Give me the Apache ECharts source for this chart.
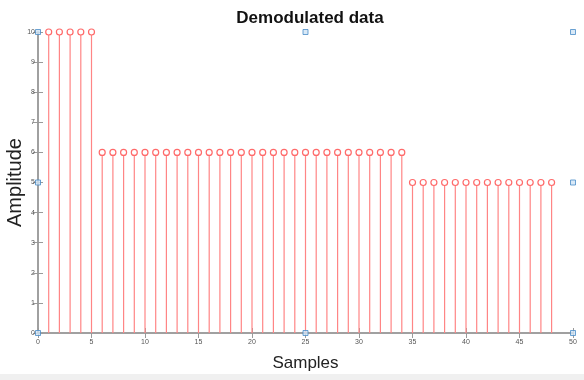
<!DOCTYPE html>
<html><head><meta charset="utf-8">
<script src="https://cdn.jsdelivr.net/npm/echarts@6/dist/echarts.min.js"></script>
<style>html,body{margin:0;padding:0;background:#fff}#c{width:584px;height:380px}</style>
</head><body><div id="c"></div>
<script>
const samples = [1,2,3,4,5,6,7,8,9,10,11,12,13,14,15,16,17,18,19,20,21,22,23,24,25,26,27,28,29,30,31,32,33,34,35,36,37,38,39,40,41,42,43,44,45,46,47,48];
const amplitude = [10,10,10,10,10,6,6,6,6,6,6,6,6,6,6,6,6,6,6,6,6,6,6,6,6,6,6,6,6,6,6,6,6,6,5,5,5,5,5,5,5,5,5,5,5,5,5,5];
const handles = [[0,0],[0,5],[0,10],[25,0],[25,10],[50,0],[50,5],[50,10]];
const xTicks = [0,5,10,15,20,25,30,35,40,45,50];
const yTicks = [0,1,2,3,4,5,6,7,8,9,10];

const stemData = samples.map((s,i)=>[s, amplitude[i]]);
const chart = echarts.init(document.getElementById('c'), null, {renderer:'canvas'});
const axisCol = '#9a9a9a';
const labelStyle = {fontSize:7, color:'#555', fontFamily:'Liberation Sans, Arial, sans-serif'};
chart.setOption({
  animation:false,
  backgroundColor:'#fff',
  title:{text:'Demodulated data', left:305, top:5, textAlign:'center',
    textStyle:{fontSize:17, fontWeight:'bold', color:'#111', fontFamily:'Liberation Sans Narrow, Liberation Sans, Arial, sans-serif'}},
  graphic:[{type:'rect', shape:{x:0,y:374,width:584,height:6}, style:{fill:'#f0f0f0'}, silent:true}],
  grid:{left:38, right:11, top:32, bottom:47, containLabel:false, outerBoundsMode:'none'},
  xAxis:[{type:'value', min:xTicks[0], max:xTicks[xTicks.length-1], interval:5, position:'bottom',
      name:'Samples', nameLocation:'middle', nameGap:22, nameMoveOverlap:false,
      nameTextStyle:{fontSize:17, color:'#222', fontFamily:'Liberation Sans, Arial, sans-serif'},
      axisLine:{lineStyle:{color:axisCol, width:1.5}}, axisTick:{inside:true, length:5, lineStyle:{color:axisCol}},
      axisLabel:Object.assign({margin:6}, labelStyle), splitLine:{show:false}},
    {type:'value', min:0, max:50, interval:5, position:'top',
      axisLine:{lineStyle:{color:axisCol, width:1.5}}, axisTick:{inside:true, length:5, lineStyle:{color:axisCol}},
      axisLabel:{show:false}, splitLine:{show:false}}],
  yAxis:[{type:'value', min:yTicks[0], max:yTicks[yTicks.length-1], interval:1, position:'left',
      name:'Amplitude', nameLocation:'middle', nameGap:13, nameRotate:90, nameMoveOverlap:false,
      nameTextStyle:{fontSize:20, color:'#222', fontFamily:'Liberation Sans, Arial, sans-serif'},
      axisLine:{lineStyle:{color:axisCol, width:1.5}}, axisTick:{inside:true, length:5, lineStyle:{color:axisCol}},
      axisLabel:Object.assign({margin:3}, labelStyle), splitLine:{show:false}},
    {type:'value', min:0, max:10, interval:1, position:'right',
      axisLine:{lineStyle:{color:axisCol, width:1.5}}, axisTick:{inside:true, length:5, lineStyle:{color:axisCol}},
      axisLabel:{show:false}, splitLine:{show:false}}],
  series:[
    {type:'custom', xAxisIndex:0, yAxisIndex:0, data:stemData, z:2,
      renderItem:function(params, api){
        const p0 = api.coord([api.value(0), 0]);
        const p1 = api.coord([api.value(0), api.value(1)]);
        return {type:'line', shape:{x1:p0[0], y1:p0[1], x2:p1[0], y2:p1[1]},
          style:{stroke:'#ff8585', lineWidth:1.2}};
      }},
    {type:'scatter', xAxisIndex:0, yAxisIndex:0, data:stemData, symbol:'circle', symbolSize:6, z:3,
      itemStyle:{color:'#ffffff', borderColor:'#ff6a6a', borderWidth:1.2, opacity:1}},
    {type:'scatter', xAxisIndex:0, yAxisIndex:0, data:handles, symbol:'rect', symbolSize:5, z:5,
      itemStyle:{color:'#cfe3f5', borderColor:'#4a8cc8', borderWidth:1}, clip:false}
  ]
});
</script></body></html>
